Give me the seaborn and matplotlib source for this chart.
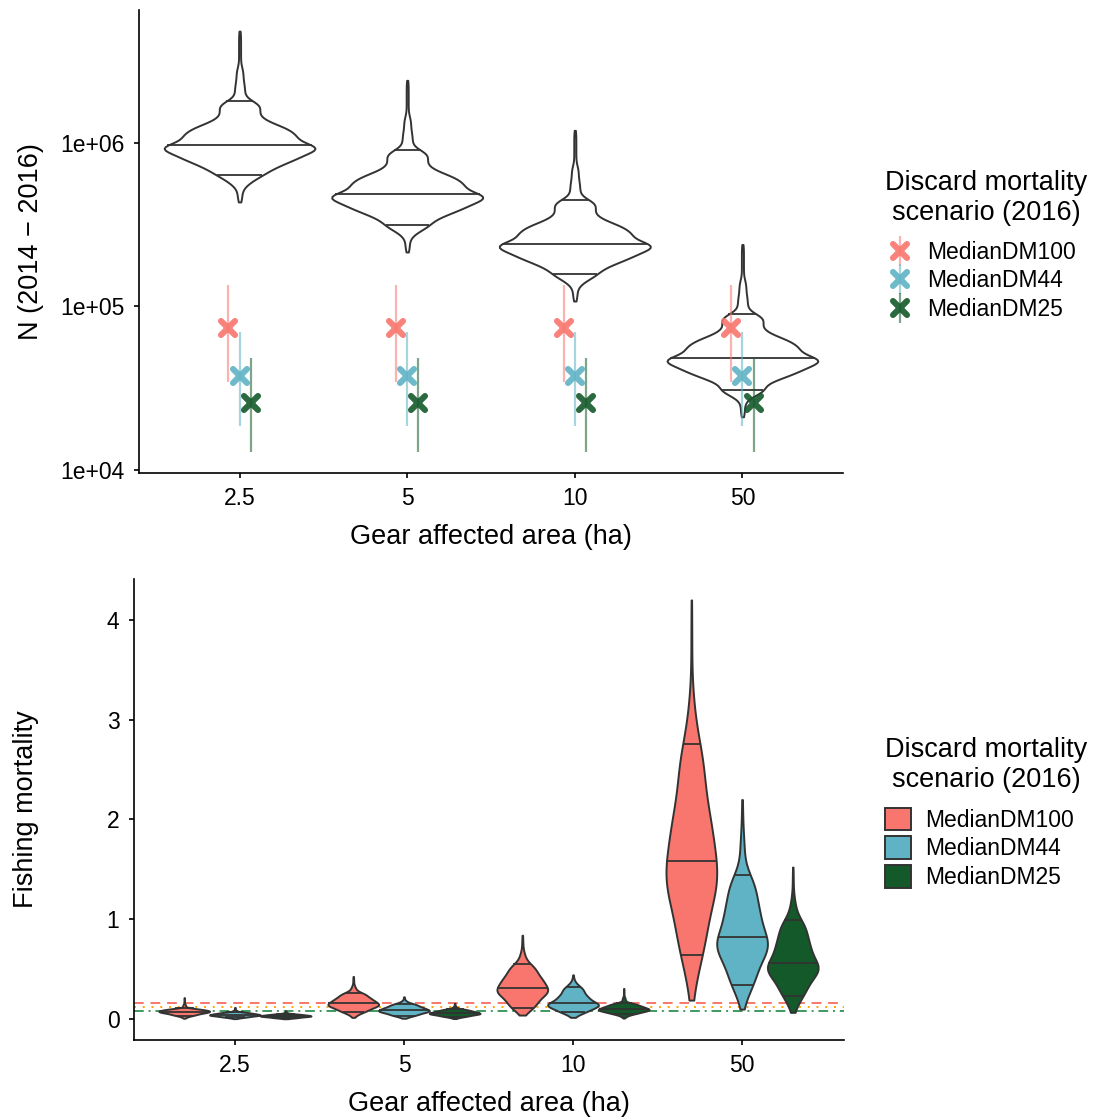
import numpy as np
import pandas as pd
import matplotlib
matplotlib.use("Agg")
import matplotlib.pyplot as plt
import seaborn as sns
from matplotlib.lines import Line2D
from matplotlib.patches import Patch
from matplotlib.markers import MarkerStyle
from matplotlib.legend_handler import HandlerTuple
from matplotlib.collections import PolyCollection
from matplotlib.ticker import NullLocator

# ---------------- data ----------------
AREAS = ["2.5", "5", "10", "50"]
SCENARIOS = ["MedianDM100", "MedianDM44", "MedianDM25"]
COLORS = ["#F8766D", "#5FB3C5", "#14592A"]

# Top panel: quantiles of log10(N) per gear area
N_PROBS = [0, .01, .025, .05, .1, .15, .2, .3, .4, .5, .6, .7, .8, .85, .9, .95, .975, .99, 1]
N_LOG10_Q_2P5 = [5.637, 5.732, 5.769, 5.800, 5.840, 5.869, 5.892, 5.929, 5.961, 5.983,
                 6.023, 6.061, 6.106, 6.144, 6.203, 6.253, 6.364, 6.460, 6.682]
N_LOG10_Q_5 = [5.331, 5.432, 5.469, 5.494, 5.540, 5.569, 5.592, 5.629, 5.661, 5.683,
               5.723, 5.761, 5.806, 5.844, 5.903, 5.953, 6.064, 6.160, 6.381]
N_LOG10_Q_10 = [5.031, 5.131, 5.168, 5.194, 5.239, 5.268, 5.291, 5.328, 5.360, 5.382,
                5.422, 5.460, 5.505, 5.543, 5.602, 5.651, 5.763, 5.859, 6.075]
N_LOG10_Q_50 = [4.323, 4.432, 4.469, 4.486, 4.540, 4.569, 4.592, 4.629, 4.661, 4.683,
                4.723, 4.761, 4.806, 4.844, 4.903, 4.951, 5.064, 5.160, 5.377]

# Top panel: point estimates with intervals per scenario (one value per area)
N_MID_DM100 = [73000, 73000, 73000, 73000]
N_LOW_DM100 = [34300, 34300, 34300, 34300]
N_HIGH_DM100 = [135000, 135000, 135000, 135000]
N_MID_DM44 = [37200, 37200, 37200, 37200]
N_LOW_DM44 = [18400, 18400, 18400, 18400]
N_HIGH_DM44 = [69800, 69800, 69800, 69800]
N_MID_DM25 = [25600, 25600, 25600, 25600]
N_LOW_DM25 = [12900, 12900, 12900, 12900]
N_HIGH_DM25 = [48200, 48200, 48200, 48200]

# Bottom panel: quantiles of fishing mortality
F_PROBS = [0, .01, .05, .25, .5, .75, .95, .99, 1]
F_Q_2P5_DM100 = [0.008, 0.020, 0.035, 0.059, 0.075, 0.089, 0.107, 0.150, 0.215]
F_Q_2P5_DM44 = [0.004, 0.010, 0.018, 0.033, 0.043, 0.055, 0.070, 0.089, 0.117]
F_Q_2P5_DM25 = [0.003, 0.007, 0.012, 0.024, 0.032, 0.041, 0.052, 0.064, 0.083]
F_Q_5_DM100 = [0.017, 0.041, 0.070, 0.122, 0.157, 0.206, 0.265, 0.330, 0.427]
F_Q_5_DM44 = [0.008, 0.020, 0.035, 0.068, 0.090, 0.119, 0.155, 0.182, 0.223]
F_Q_5_DM25 = [0.005, 0.014, 0.025, 0.046, 0.060, 0.078, 0.100, 0.123, 0.157]
F_Q_10_DM100 = [0.040, 0.074, 0.115, 0.235, 0.315, 0.420, 0.548, 0.665, 0.840]
F_Q_10_DM44 = [0.017, 0.040, 0.067, 0.123, 0.160, 0.233, 0.323, 0.371, 0.443]
F_Q_10_DM25 = [0.010, 0.028, 0.050, 0.080, 0.100, 0.127, 0.160, 0.219, 0.307]
F_Q_50_DM100 = [0.190, 0.375, 0.640, 1.200, 1.580, 2.090, 2.760, 3.200, 4.200]
F_Q_50_DM44 = [0.100, 0.220, 0.340, 0.640, 0.820, 1.120, 1.440, 1.850, 2.200]
F_Q_50_DM25 = [0.067, 0.130, 0.233, 0.440, 0.560, 0.770, 0.993, 1.200, 1.523]

# Reference fishing mortality levels
F_REF = [0.157, 0.117, 0.077]
F_REF_COLORS = ["#F8766D", "#FFA500", "#3E9B5E"]

LINE_PROBS = [0.05, 0.5, 0.95]

# ---------------- helpers ----------------
def samples_from_quantiles(probs, quantiles, n=3000):
    grid = np.linspace(0.0, 1.0, n)
    return np.interp(grid, probs, quantiles)


def violin_polys(ax):
    return [c for c in ax.collections if isinstance(c, PolyCollection)]


def add_quantile_lines(ax, coll, values, log=False, **kw):
    verts = coll.get_paths()[0].vertices
    verts = verts[np.isfinite(verts).all(axis=1)]
    xc = (verts[:, 0].min() + verts[:, 0].max()) / 2
    right = verts[verts[:, 0] >= xc]
    ys = np.log10(right[:, 1]) if log else right[:, 1]
    order = np.argsort(ys)
    for v in values:
        tv = np.log10(v) if log else v
        xr = np.interp(tv, ys[order], right[order, 0])
        ax.plot([2 * xc - xr, xr], [v, v], **kw)
    return xc


# ---------------- style ----------------
sns.set_style("ticks")
plt.rcParams["font.family"] = ["Liberation Sans", "DejaVu Sans"]
plt.rcParams["axes.linewidth"] = 1.2
plt.rcParams["xtick.major.width"] = 1.2
plt.rcParams["ytick.major.width"] = 1.2
plt.rcParams["xtick.major.size"] = 3.6
plt.rcParams["ytick.major.size"] = 3.6
plt.rcParams["xtick.color"] = "black"
plt.rcParams["ytick.color"] = "black"
plt.rcParams["axes.edgecolor"] = "black"
plt.rcParams["text.color"] = "black"
plt.rcParams["axes.labelcolor"] = "black"

TITLE_FS = 19.5
SMALL_FS = 16.5
LINE_C = "#333333"

fig = plt.figure(figsize=(10.94, 11.17), dpi=100)
W, H = 1094, 1117
ax1 = fig.add_axes([139 / W, 1 - 472.7 / H, 704 / W, 462.7 / H])
ax2 = fig.add_axes([133.5 / W, 1 - 1040 / H, 710 / W, 461 / H])

# ---------------- top panel ----------------
top_frames = []
for area, lq in zip(AREAS, [N_LOG10_Q_2P5, N_LOG10_Q_5, N_LOG10_Q_10, N_LOG10_Q_50]):
    top_frames.append(pd.DataFrame({"area": area,
                                    "N": 10 ** samples_from_quantiles(N_PROBS, lq)}))
top_df = pd.concat(top_frames, ignore_index=True)

sns.violinplot(data=top_df, x="area", y="N", order=AREAS, log_scale=True,
               color="white", linecolor=LINE_C, linewidth=1.4, saturation=1,
               density_norm="width", cut=0, inner=None, width=0.9,
               bw_adjust=0.9, ax=ax1)

top_q = [N_LOG10_Q_2P5, N_LOG10_Q_5, N_LOG10_Q_10, N_LOG10_Q_50]
for coll in violin_polys(ax1):
    verts = coll.get_paths()[0].vertices
    xc = (verts[:, 0].min() + verts[:, 0].max()) / 2
    idx = int(round(xc))
    vals = 10 ** np.interp(LINE_PROBS, N_PROBS, top_q[idx])
    add_quantile_lines(ax1, coll, vals, log=True, color=LINE_C, lw=1.3,
                       solid_capstyle="butt", zorder=3)

DODGE_PT = [-0.0667, 0.0, 0.0667]
mids = [N_MID_DM100, N_MID_DM44, N_MID_DM25]
lows = [N_LOW_DM100, N_LOW_DM44, N_LOW_DM25]
highs = [N_HIGH_DM100, N_HIGH_DM44, N_HIGH_DM25]
xmark = MarkerStyle("x", capstyle="round", joinstyle="round")
for j in range(3):
    xs = np.arange(len(AREAS)) + DODGE_PT[j]
    ax1.vlines(xs, lows[j], highs[j], color=COLORS[j], alpha=0.55, lw=1.6, zorder=4)
    ax1.plot(xs, mids[j], linestyle="none", marker=xmark, ms=10.5, mew=4.4,
             color=COLORS[j], alpha=0.9, zorder=5)

ax1.set_ylim(10 ** 3.981, 10 ** 6.811)
ax1.set_xlim(-0.6, 3.6)
ax1.set_yticks([1e4, 1e5, 1e6])
ax1.set_yticklabels(["1e+04", "1e+05", "1e+06"])
ax1.yaxis.set_minor_locator(NullLocator())
ax1.set_xlabel("Gear affected area (ha)", fontsize=TITLE_FS, labelpad=10)
ax1.set_ylabel("N (2014 \u2212 2016)", fontsize=TITLE_FS)
ax1.yaxis.set_label_coords((44 - 139) / 704, 0.5)
ax1.tick_params(labelsize=SMALL_FS, pad=6.5)
sns.despine(ax=ax1)

# ---------------- bottom panel ----------------
f_lists = {
    ("2.5", "MedianDM100"): F_Q_2P5_DM100, ("2.5", "MedianDM44"): F_Q_2P5_DM44,
    ("2.5", "MedianDM25"): F_Q_2P5_DM25,
    ("5", "MedianDM100"): F_Q_5_DM100, ("5", "MedianDM44"): F_Q_5_DM44,
    ("5", "MedianDM25"): F_Q_5_DM25,
    ("10", "MedianDM100"): F_Q_10_DM100, ("10", "MedianDM44"): F_Q_10_DM44,
    ("10", "MedianDM25"): F_Q_10_DM25,
    ("50", "MedianDM100"): F_Q_50_DM100, ("50", "MedianDM44"): F_Q_50_DM44,
    ("50", "MedianDM25"): F_Q_50_DM25,
}
bot_frames = []
for (area, scen), q in f_lists.items():
    bot_frames.append(pd.DataFrame({"area": area, "scenario": scen,
                                    "F": samples_from_quantiles(F_PROBS, q)}))
bot_df = pd.concat(bot_frames, ignore_index=True)

for val, c, ls in zip(F_REF, F_REF_COLORS, [(0, (5, 3.5)), (0, (1, 3.5)), (0, (5, 2.5, 1, 2.5))]):
    ax2.axhline(val, color=c, lw=1.4, linestyle=ls, zorder=1)

sns.violinplot(data=bot_df, x="area", y="F", hue="scenario", order=AREAS,
               hue_order=SCENARIOS, palette=dict(zip(SCENARIOS, COLORS)),
               linecolor=LINE_C, linewidth=1.4, saturation=1,
               density_norm="width", cut=0, inner=None, width=0.9, gap=0,
               dodge=True, legend=False, bw_adjust=1.7, ax=ax2)

for coll in violin_polys(ax2):
    verts = coll.get_paths()[0].vertices
    xc = (verts[:, 0].min() + verts[:, 0].max()) / 2
    idx = int(round(xc))
    j = int(round((xc - idx) / 0.3)) + 1
    vals = np.interp(LINE_PROBS, F_PROBS, f_lists[(AREAS[idx], SCENARIOS[j])])
    add_quantile_lines(ax2, coll, vals, log=False, color=LINE_C, lw=1.3,
                       solid_capstyle="butt", zorder=3)

ax2.set_ylim(-0.21, 4.41)
ax2.set_xlim(-0.6, 3.6)
ax2.set_yticks([0, 1, 2, 3, 4])
ax2.set_xlabel("Gear affected area (ha)", fontsize=TITLE_FS, labelpad=10)
ax2.set_ylabel("Fishing mortality", fontsize=TITLE_FS)
ax2.yaxis.set_label_coords((39 - 133.5) / 710, 0.5)
ax2.tick_params(labelsize=SMALL_FS, pad=6.5)
sns.despine(ax=ax2)

# ---------------- legends ----------------
top_handles = []
for c in COLORS:
    vline = Line2D([], [], marker="|", ms=22, mew=1.6, color=c, alpha=0.55, linestyle="none")
    xm = Line2D([], [], marker=xmark, ms=10.5, mew=4.4, color=c, alpha=0.9, linestyle="none")
    top_handles.append((vline, xm))
leg1 = fig.legend(top_handles, SCENARIOS, title="Discard mortality\nscenario (2016)",
                  loc="upper left", bbox_to_anchor=(885 / W, 1 - 170 / H),
                  frameon=False, fontsize=SMALL_FS, title_fontsize=TITLE_FS,
                  handler_map={tuple: HandlerTuple(ndivide=1)},
                  handlelength=1.3, handletextpad=0.55, labelspacing=0.25,
                  borderaxespad=0, borderpad=0, alignment="left")
leg1.get_title().set_multialignment("center")
leg1._legend_box.sep = 10.5

bot_handles = [Patch(facecolor=c, edgecolor=LINE_C, lw=1.4) for c in COLORS]
leg2 = fig.legend(bot_handles, SCENARIOS, title="Discard mortality\nscenario (2016)",
                  loc="upper left", bbox_to_anchor=(885 / W, 1 - 737 / H),
                  frameon=False, fontsize=SMALL_FS, title_fontsize=TITLE_FS,
                  handlelength=1.15, handleheight=1.15, handletextpad=0.6,
                  labelspacing=0.2, borderaxespad=0, borderpad=0, alignment="left")
leg2.get_title().set_multialignment("center")
leg2._legend_box.sep = 10.5

fig.savefig("out.png", dpi=100, facecolor="white")
